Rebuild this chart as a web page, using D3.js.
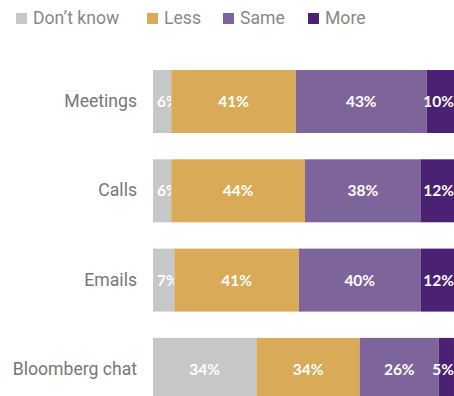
<!DOCTYPE html>
<html>
<head>
<meta charset="utf-8">
<script src="https://cdn.jsdelivr.net/npm/d3@7"></script>
<style>
  html, body { margin: 0; padding: 0; background: #fff; overflow: hidden; }
  svg { display: block; }
</style>
</head>
<body>
<svg id="chart" width="454" height="396"></svg>
<script>
// Survey responses: share answering each option, per channel
const categories = ["Meetings", "Calls", "Emails", "Bloomberg chat"];
const seriesNames = ["Don\u2019t know", "Less", "Same", "More"];
const dontKnow = [6, 6, 7, 34];
const less = [41, 44, 41, 34];
const same = [43, 38, 40, 26];
const more = [10, 12, 12, 5];
const seriesColors = ["#c6c7c9", "#d9aa58", "#7d659c", "#4a2173"];

const rows = categories.map((c, i) => ({
  category: c,
  [seriesNames[0]]: dontKnow[i],
  [seriesNames[1]]: less[i],
  [seriesNames[2]]: same[i],
  [seriesNames[3]]: more[i]
}));

const W = 454;
const svg = d3.select("#chart");

const x = d3.scaleLinear().domain([0, 100]).range([153, 457]);
const y = d3.scaleBand().domain(categories).range([56.8, 414.1]).paddingInner(0.2945).paddingOuter(0.148);
const color = d3.scaleOrdinal().domain(seriesNames).range(seriesColors);

const stacked = d3.stack().keys(seriesNames)(rows);

// Bars
const layers = svg.append("g").selectAll("g")
  .data(stacked)
  .join("g")
  .attr("fill", d => color(d.key));

layers.selectAll("rect")
  .data(d => d)
  .join("rect")
  .attr("x", d => x(d[0]))
  .attr("y", d => y(d.data.category))
  .attr("width", d => x(d[1]) - x(d[0]))
  .attr("height", y.bandwidth());

// Value labels inside segments, kept within the bar start and the chart edge
layers.selectAll("text")
  .data(d => d.map(v => ({ v, key: d.key })))
  .join("text")
  .attr("y", d => y(d.v.data.category) + y.bandwidth() / 2)
  .attr("dy", "0.35em")
  .attr("text-anchor", "middle")
  .attr("fill", "#ffffff")
  .attr("font-family", "Lato, sans-serif")
  .attr("font-weight", "bold")
  .attr("font-size", 15.5)
  .text(d => (d.v[1] - d.v[0]) + "%")
  .attr("x", function (d) {
    const half = this.getComputedTextLength() / 2;
    let cx = (x(d.v[0]) + x(Math.min(d.v[1], 100))) / 2;
    cx = Math.max(cx, x(0) + 4 + half);
    cx = Math.min(cx, W - half);
    return cx;
  });

// Category axis
const axis = svg.append("g")
  .attr("transform", `translate(${x(0) - 16},0)`)
  .call(d3.axisLeft(y).tickSize(0).tickPadding(0));
axis.select(".domain").remove();
axis.selectAll("text")
  .attr("fill", "#777777")
  .attr("font-family", "Roboto, sans-serif")
  .attr("font-size", 17.6);

// Legend
const legendX = [16, 147, 223, 308];
const legend = svg.append("g").selectAll("g")
  .data(seriesNames)
  .join("g")
  .attr("transform", (d, i) => `translate(${legendX[i]},13)`);
legend.append("rect")
  .attr("width", 11)
  .attr("height", 11)
  .attr("fill", d => color(d));
legend.append("text")
  .attr("x", 17)
  .attr("y", 11)
  .attr("fill", "#888888")
  .attr("font-family", "Roboto, sans-serif")
  .attr("font-size", 17.6)
  .text(d => d);
</script>
</body>
</html>
